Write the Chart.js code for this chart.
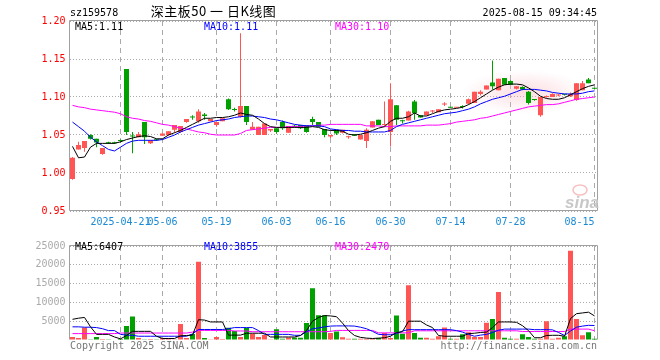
<!DOCTYPE html>
<html>
<head>
<meta charset="utf-8">
<title>深主板50 日K线图</title>
<script src="https://cdn.jsdelivr.net/npm/chart.js@4.4.1/dist/chart.umd.min.js"></script>
<style>
  body { margin: 0; background: #fff; }
  #wrap { position: relative; width: 660px; height: 360px; overflow: hidden;
          font-family: "DejaVu Sans Mono", monospace; font-size: 10px; }
  #wrap canvas { position: absolute; left: 0; }
  .t { position: absolute; white-space: pre; line-height: 12px; }
</style>
</head>
<body>
<div id="wrap">
  <canvas id="price" width="660" height="236" style="top:0"></canvas>
  <canvas id="vol" width="660" height="124" style="top:236px"></canvas>
  <div class="t" style="left:70px;top:7px">sz159578</div>
  <div class="t" style="left:140px;top:3px;width:147px;text-align:center;font-family:'Noto Sans CJK SC';font-size:13px;line-height:16px;letter-spacing:0.5px">深主板50 一 日K线图</div>
  <div class="t" style="right:63px;top:7px">2025-08-15 09:34:45</div>
  <div class="t" style="left:75px;top:21px;color:#000">MA5:1.11</div>
  <div class="t" style="left:204px;top:21px;color:#0000ff">MA10:1.11</div>
  <div class="t" style="left:335px;top:21px;color:#ff00ff">MA30:1.10</div>
  <div class="t" style="left:75px;top:241px;color:#000">MA5:6407</div>
  <div class="t" style="left:204px;top:241px;color:#0000ff">MA10:3855</div>
  <div class="t" style="left:335px;top:241px;color:#ff00ff">MA30:2470</div>
  <div class="t" style="left:70px;top:340px;color:#777">Copyright 2025 SINA.COM</div>
  <div class="t" style="right:63px;top:340px;color:#777">http://finance.sina.com.cn</div>
</div>
<script>
// trading days, 2025
const dates = ['04-10','04-11','04-14','04-15','04-16','04-17','04-18','04-21','04-22','04-23',
  '04-24','04-25','04-28','04-29','04-30','05-06','05-07','05-08','05-09','05-12',
  '05-13','05-14','05-15','05-16','05-19','05-20','05-21','05-22','05-23','05-26',
  '05-27','05-28','05-29','05-30','06-03','06-04','06-05','06-06','06-09','06-10',
  '06-11','06-12','06-13','06-16','06-17','06-18','06-19','06-20','06-23','06-24',
  '06-25','06-26','06-27','06-30','07-01','07-02','07-03','07-04','07-07','07-08',
  '07-09','07-10','07-11','07-14','07-15','07-16','07-17','07-18','07-21','07-22',
  '07-23','07-24','07-25','07-28','07-29','07-30','07-31','08-01','08-04','08-05',
  '08-06','08-07','08-08','08-11','08-12','08-13','08-14','08-15'];

const opens = [0.992,1.031,1.033,1.050,1.045,1.025,1.040,1.040,1.043,1.137,
  1.049,1.047,1.067,1.039,1.044,1.049,1.050,1.057,1.054,1.067,
  1.074,1.068,1.077,1.068,1.063,1.068,1.097,1.084,1.074,1.088,
  1.057,1.050,1.050,1.056,1.059,1.067,1.053,1.062,1.063,1.063,
  1.071,1.067,1.058,1.048,1.057,1.053,1.047,1.051,1.044,1.042,
  1.060,1.070,1.063,1.054,1.089,1.069,1.069,1.094,1.076,1.076,
  1.081,1.080,1.090,1.087,1.086,1.088,1.091,1.092,1.104,1.110,
  1.119,1.109,1.125,1.121,1.111,1.113,1.107,1.097,1.076,1.100,
  1.100,1.102,1.104,1.101,1.096,1.109,1.123,1.112];
const highs = [1.021,1.041,1.042,1.051,1.045,1.033,1.041,1.041,1.044,1.137,
  1.054,1.054,1.067,1.043,1.045,1.052,1.055,1.063,1.062,1.071,
  1.076,1.084,1.079,1.071,1.067,1.072,1.098,1.086,1.184,1.088,
  1.067,1.061,1.065,1.058,1.059,1.069,1.062,1.063,1.063,1.063,
  1.074,1.067,1.058,1.050,1.057,1.057,1.049,1.051,1.050,1.059,
  1.068,1.070,1.094,1.118,1.089,1.070,1.082,1.096,1.076,1.081,
  1.083,1.084,1.093,1.087,1.087,1.089,1.098,1.107,1.109,1.115,
  1.148,1.124,1.125,1.122,1.114,1.114,1.108,1.097,1.100,1.102,
  1.105,1.104,1.104,1.106,1.118,1.121,1.125,1.112];
const lows = [0.991,1.031,1.028,1.044,1.034,1.024,1.038,1.038,1.040,1.050,
  1.026,1.047,1.038,1.038,1.042,1.049,1.049,1.053,1.053,1.066,
  1.070,1.066,1.070,1.068,1.061,1.068,1.083,1.081,1.073,1.063,
  1.057,1.050,1.050,1.054,1.052,1.057,1.053,1.060,1.058,1.053,
  1.063,1.061,1.047,1.046,1.050,1.052,1.045,1.049,1.044,1.033,
  1.060,1.063,1.062,1.035,1.063,1.065,1.069,1.070,1.073,1.076,
  1.079,1.080,1.088,1.086,1.086,1.085,1.090,1.092,1.102,1.110,
  1.110,1.109,1.116,1.116,1.110,1.109,1.090,1.095,1.074,1.099,
  1.100,1.101,1.102,1.100,1.095,1.109,1.118,1.110];
const closes = [1.020,1.037,1.042,1.045,1.040,1.033,1.039,1.039,1.042,1.054,
  1.048,1.051,1.047,1.043,1.043,1.052,1.055,1.063,1.062,1.071,
  1.073,1.081,1.075,1.071,1.067,1.072,1.084,1.083,1.088,1.067,
  1.061,1.061,1.065,1.058,1.054,1.059,1.062,1.061,1.059,1.054,
  1.067,1.061,1.050,1.050,1.052,1.057,1.048,1.049,1.050,1.057,
  1.068,1.063,1.064,1.097,1.070,1.068,1.081,1.079,1.073,1.081,
  1.082,1.084,1.091,1.086,1.087,1.087,1.097,1.107,1.107,1.115,
  1.114,1.124,1.116,1.116,1.114,1.110,1.092,1.096,1.100,1.101,
  1.104,1.103,1.103,1.104,1.118,1.118,1.118,1.111];

const ma5 = [1.035,1.020,1.021,1.034,1.039,1.039,1.039,1.039,1.041,1.044,
  1.046,1.048,1.049,1.048,1.045,1.045,1.050,1.053,1.056,1.060,
  1.064,1.068,1.072,1.072,1.073,1.073,1.074,1.076,1.079,1.077,
  1.076,1.071,1.065,1.061,1.060,1.060,1.060,1.060,1.060,1.060,
  1.061,1.060,1.057,1.056,1.056,1.055,1.051,1.050,1.051,1.053,
  1.056,1.059,1.061,1.068,1.072,1.072,1.074,1.079,1.075,1.075,
  1.078,1.081,1.083,1.084,1.085,1.0865,1.090,1.094,1.099,1.104,
  1.109,1.113,1.116,1.117,1.117,1.116,1.112,1.107,1.101,1.098,
  1.097,1.097,1.099,1.103,1.107,1.111,1.114,1.116];
const ma10 = [1.067,1.061,1.055,1.047,1.041,1.036,1.031,1.029,1.034,1.039,
  1.042,1.043,1.043,1.043,1.043,1.044,1.047,1.050,1.054,1.057,
  1.060,1.063,1.065,1.067,1.069,1.070,1.071,1.073,1.074,1.075,
  1.075,1.074,1.073,1.071,1.070,1.068,1.066,1.064,1.063,1.062,
  1.062,1.062,1.061,1.058,1.057,1.056,1.056,1.055,1.055,1.054,
  1.054,1.054,1.054,1.056,1.061,1.064,1.066,1.068,1.070,1.072,
  1.074,1.076,1.078,1.079,1.080,1.082,1.084,1.087,1.091,1.094,
  1.097,1.099,1.101,1.104,1.107,1.110,1.110,1.110,1.109,1.108,
  1.106,1.105,1.104,1.104,1.104,1.105,1.107,1.108];
const ma30 = [1.089,1.087,1.086,1.084,1.083,1.082,1.081,1.080,1.078,1.074,
  1.072,1.071,1.069,1.068,1.066,1.064,1.063,1.061,1.059,1.058,
  1.056,1.054,1.053,1.051,1.050,1.050,1.050,1.050,1.052,1.056,
  1.057,1.058,1.059,1.060,1.060,1.060,1.061,1.061,1.061,1.062,
  1.062,1.063,1.063,1.064,1.064,1.064,1.064,1.064,1.064,1.062,
  1.062,1.062,1.061,1.061,1.062,1.062,1.062,1.062,1.062,1.063,
  1.063,1.063,1.064,1.065,1.067,1.068,1.069,1.070,1.072,1.073,
  1.075,1.077,1.079,1.081,1.083,1.085,1.087,1.088,1.089,1.090,
  1.090,1.091,1.093,1.095,1.097,1.098,1.099,1.100];

const volumes = [830,500,3330,170,830,250,170,120,250,3750,
  6250,500,170,250,170,500,500,170,4250,500,
  1580,20830,500,170,830,250,3250,2420,830,3170,
  1670,830,1330,170,2830,330,670,670,580,4500,
  13750,6580,6580,1830,2250,750,330,330,330,330,
  330,500,1830,500,6500,1670,14580,1830,580,580,
  330,1000,3330,330,330,1500,2080,830,830,4580,
  5580,12750,580,330,330,1500,830,330,330,5000,
  330,580,1000,23750,5580,1250,2080,330];
const volMa5 = [5500,5800,6000,3500,1500,1500,1500,800,300,1200,
  2300,2300,2300,2300,1000,400,400,400,1100,1200,
  1300,5400,5300,4800,4800,4800,1300,1300,1300,1800,
  1800,1800,1800,800,800,800,800,800,1200,2500,
  5000,6000,6500,6400,6200,4500,2500,1200,700,500,
  400,500,600,1000,2000,2200,5000,5000,5000,4000,
  3300,1200,1000,1000,1000,1000,1700,1800,2000,2100,
  3300,4800,4800,4800,4700,3800,2500,600,600,1200,
  1250,1250,1000,5700,7000,7200,7400,6407];
const volMa10 = [3500,3500,3400,3400,3300,3000,2500,2500,1500,1300,
  1250,1000,1000,1000,1000,1000,1000,1000,1000,1000,
  1600,2800,2800,2800,2800,2800,3000,3300,3300,3300,
  3300,2500,1500,1500,1500,1500,1500,1250,1250,2200,
  3000,3200,3500,3700,3750,3750,3750,3700,3400,3000,
  2300,1500,1400,1400,1700,2400,2750,2750,2750,2750,
  2750,2750,2750,2750,2500,2100,1500,1000,1300,1500,
  2000,2600,2900,2900,2900,2900,2900,2750,2750,2750,
  2700,2000,1200,2400,3400,3700,3900,3855];
const volMa30 = [1700,1700,1700,1700,1700,1700,1700,1700,1850,1850,
  1850,1850,1850,1850,1850,1850,1850,1850,1850,1850,
  2100,2550,2550,2550,2550,2550,2550,2400,2400,2400,
  2200,2200,2200,2200,2200,2200,2200,2200,2200,2200,
  2200,2200,2200,2300,2550,2550,2550,2550,2550,2550,
  2550,1900,1900,1900,1900,1900,1900,2450,2450,2450,
  2450,2450,2450,2450,2450,2450,2450,2450,2450,2450,
  2450,2450,2450,2450,2450,2250,2250,2250,2250,2250,
  2250,2250,2250,2900,2900,2900,2900,2470];

const xTickIdx = [8, 15, 24, 34, 43, 53, 63, 73, 87];
const xTickText = ['2025-04-21','05-06','05-19','06-03','06-16','06-30','07-14','07-28','08-15'];

const RED = '#ff5555';
const GREEN = '#00a000';
const GRID = '#aaaaaa';
const MONO = { family: 'DejaVu Sans Mono', size: 10 };

const candleColor = closes.map((c, i) => c >= opens[i] ? RED : GREEN);

// solid gray frame round the plot area
function framePlugin(withBottom) {
  return {
    id: 'frame',
    beforeDatasetsDraw(chart) {
      const a = chart.chartArea, ctx = chart.ctx;
      const l = Math.round(a.left) - 0.5, r = Math.round(a.right) - 0.5;
      const t = Math.round(a.top) - 0.5, b = Math.round(a.bottom) - 0.5;
      ctx.save();
      ctx.strokeStyle = '#a0a0a0';
      ctx.lineWidth = 1;
      ctx.beginPath();
      ctx.moveTo(l, b); ctx.lineTo(l, t); ctx.lineTo(r, t); ctx.lineTo(r, b);
      if (withBottom) ctx.lineTo(l, b);
      ctx.stroke();
      ctx.restore();
    }
  };
}

// faint sina watermarks
const watermark = {
  id: 'watermark',
  beforeDatasetsDraw(chart) {
    const ctx = chart.ctx;
    ctx.save();
    ctx.translate(525, 92);
    ctx.scale(1, 0.35);
    const g = ctx.createRadialGradient(0, 0, 0, 0, 0, 62);
    g.addColorStop(0, 'rgba(248,180,190,0.45)');
    g.addColorStop(1, 'rgba(248,180,190,0)');
    ctx.fillStyle = g;
    ctx.beginPath(); ctx.arc(0, 0, 62, 0, Math.PI * 2); ctx.fill();
    ctx.restore();
  },
  afterDraw(chart) {
    const ctx = chart.ctx;
    ctx.save();
    ctx.strokeStyle = 'rgba(240,150,150,0.6)';
    ctx.lineWidth = 1.5;
    ctx.beginPath(); ctx.ellipse(580, 190, 7, 5, 0, 0, Math.PI * 2); ctx.stroke();
    ctx.fillStyle = '#c8c8c8';
    ctx.font = 'italic bold 17px "Liberation Sans"';
    ctx.fillText('sina', 565, 208);
    ctx.restore();
  }
};

function xAxis(showLabels, height) {
  return {
    offset: true,
    afterFit: s => { s.height = height; },
    grid: {
      offset: false,
      drawTicks: false,
      color: c => xTickIdx.includes(c.index) ? GRID : 'rgba(0,0,0,0)'
    },
    border: { display: false, dash: [5, 4] },
    ticks: {
      display: showLabels,
      autoSkip: false,
      maxRotation: 0,
      minRotation: 0,
      padding: 5,
      color: '#1a8ad4',
      font: MONO,
      callback: (v, i) => {
        const k = xTickIdx.indexOf(i);
        if (k < 0) return '';
        // last label sits left of its line
        if (k === xTickText.length - 1) return xTickText[k] + ' '.repeat(xTickText[k].length);
        return xTickText[k];
      }
    }
  };
}

function maLine(data, color) {
  return { type: 'line', data: data, borderColor: color, borderWidth: 1,
           pointRadius: 0, tension: 0, order: 0 };
}

const common = {
  responsive: false,
  animation: false,
  devicePixelRatio: 1,
  plugins: { legend: { display: false }, tooltip: { enabled: false } }
};

new Chart(document.getElementById('price'), {
  type: 'bar',
  data: {
    labels: dates,
    datasets: [
      maLine(ma5, '#000000'),
      maLine(ma10, '#0000ff'),
      maLine(ma30, '#ff00ff'),
      {
        data: opens.map((o, i) => [Math.min(o, closes[i]), Math.max(o, closes[i])]),
        backgroundColor: candleColor,
        barThickness: 5, grouped: false, minBarLength: 1, inflateAmount: 0, order: 1
      },
      {
        data: lows.map((l, i) => [l, highs[i]]),
        backgroundColor: candleColor,
        barThickness: 1, grouped: false, inflateAmount: 0, order: 2
      }
    ]
  },
  options: Object.assign({}, common, {
    layout: { padding: { left: 0, right: 62.5, top: 21, bottom: 0 } },
    scales: {
      x: xAxis(true, 25),
      y: {
        min: 0.95, max: 1.2,
        afterFit: s => { s.width = 69.5; },
        grid: { color: GRID, drawTicks: false },
        border: { display: false, dash: [1, 2] },
        ticks: { stepSize: 0.05, padding: 4, color: '#ff0000', font: MONO,
                 callback: v => v.toFixed(2) }
      }
    }
  }),
  plugins: [framePlugin(true), watermark]
});

new Chart(document.getElementById('vol'), {
  type: 'bar',
  data: {
    labels: dates,
    datasets: [
      maLine(volMa5, '#000000'),
      maLine(volMa10, '#0000ff'),
      maLine(volMa30, '#ff00ff'),
      {
        data: volumes,
        backgroundColor: candleColor,
        barThickness: 5, grouped: false, inflateAmount: 0, order: 1
      }
    ]
  },
  options: Object.assign({}, common, {
    layout: { padding: { left: 0, right: 62.5, top: 4, bottom: 0 } },
    scales: {
      x: xAxis(false, 20),
      y: {
        min: 0, max: 25000,
        afterFit: s => { s.width = 69.5; },
        grid: { color: c => c.tick.value === 0 ? 'rgba(0,0,0,0)' : GRID, drawTicks: false },
        border: { display: false, dash: [1, 2] },
        ticks: { stepSize: 5000, padding: 4, color: '#aaaaaa', font: MONO,
                 callback: v => v === 0 ? '' : v }
      }
    }
  }),
  plugins: [framePlugin(false)]
});
</script>
</body>
</html>
